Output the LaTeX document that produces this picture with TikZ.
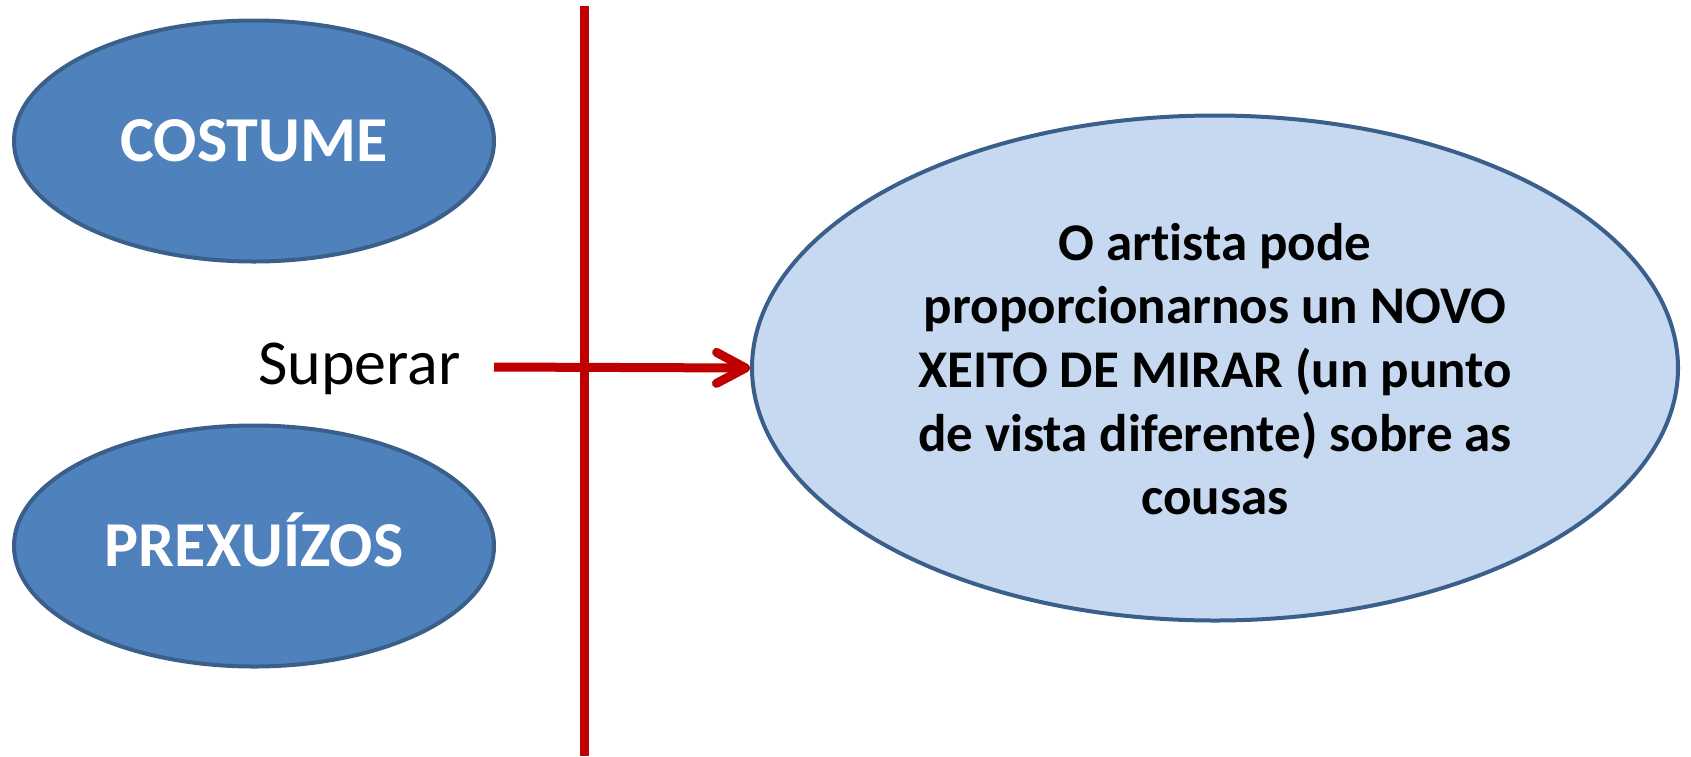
\documentclass[tikz,border=0pt]{standalone}
\usepackage{fontspec}
\setmainfont{Carlito}[Ligatures={NoCommon}]
\usetikzlibrary{shapes.geometric,arrows.meta}
\definecolor{dblue}{HTML}{4F81BD}
\definecolor{bord}{HTML}{3A5F8B}
\definecolor{lblue}{HTML}{C6D9F1}
\definecolor{dred}{HTML}{C00000}
\tikzset{
  smallell/.style={ellipse, draw=bord, fill=dblue, line width=4pt, inner sep=0pt,
    minimum width=480pt, minimum height=241pt, text=white,
    font=\fontsize{64}{70}\selectfont\bfseries, text height=40.5pt, text depth=0pt},
  bigell/.style={ellipse, draw=bord, fill=lblue, line width=4pt, inner sep=0pt,
    minimum width=926pt, minimum height=505pt},
  bigtext/.style={align=center, inner sep=0pt, font=\fontsize{53}{63.7}\selectfont\bfseries},
  redline/.style={draw=dred, line width=9pt},
}
\begin{document}
\begin{tikzpicture}[x=1pt,y=-1pt]
\useasboundingbox (0,0) rectangle (1691,756);
\node[smallell] (cos) at (254,141) {COSTUME};
\node[smallell] (pre) at (254,546) {PREXUÍZOS};
\node[bigell] (big) at (1215,368) {};
\node[bigtext] (txt) at (1215,369) {O artista pode\\proporcionarnos un NOVO\\XEITO DE MIRAR (un punto\\de vista diferente) sobre as\\cousas};
\node[anchor=base east, inner sep=0pt, font=\fontsize{64}{70}\selectfont] (sup) at (461,384) {Superar};
\coordinate (vtop) at (584,6);
\coordinate (vbot) at (584,756);
\coordinate (astart) at (494,367);
\draw[redline] (vtop) -- (vbot);
\draw[redline, -{Straight Barb[length=29pt,width=31pt,round]}] (astart) -- (big.west);
\end{tikzpicture}
\end{document}
